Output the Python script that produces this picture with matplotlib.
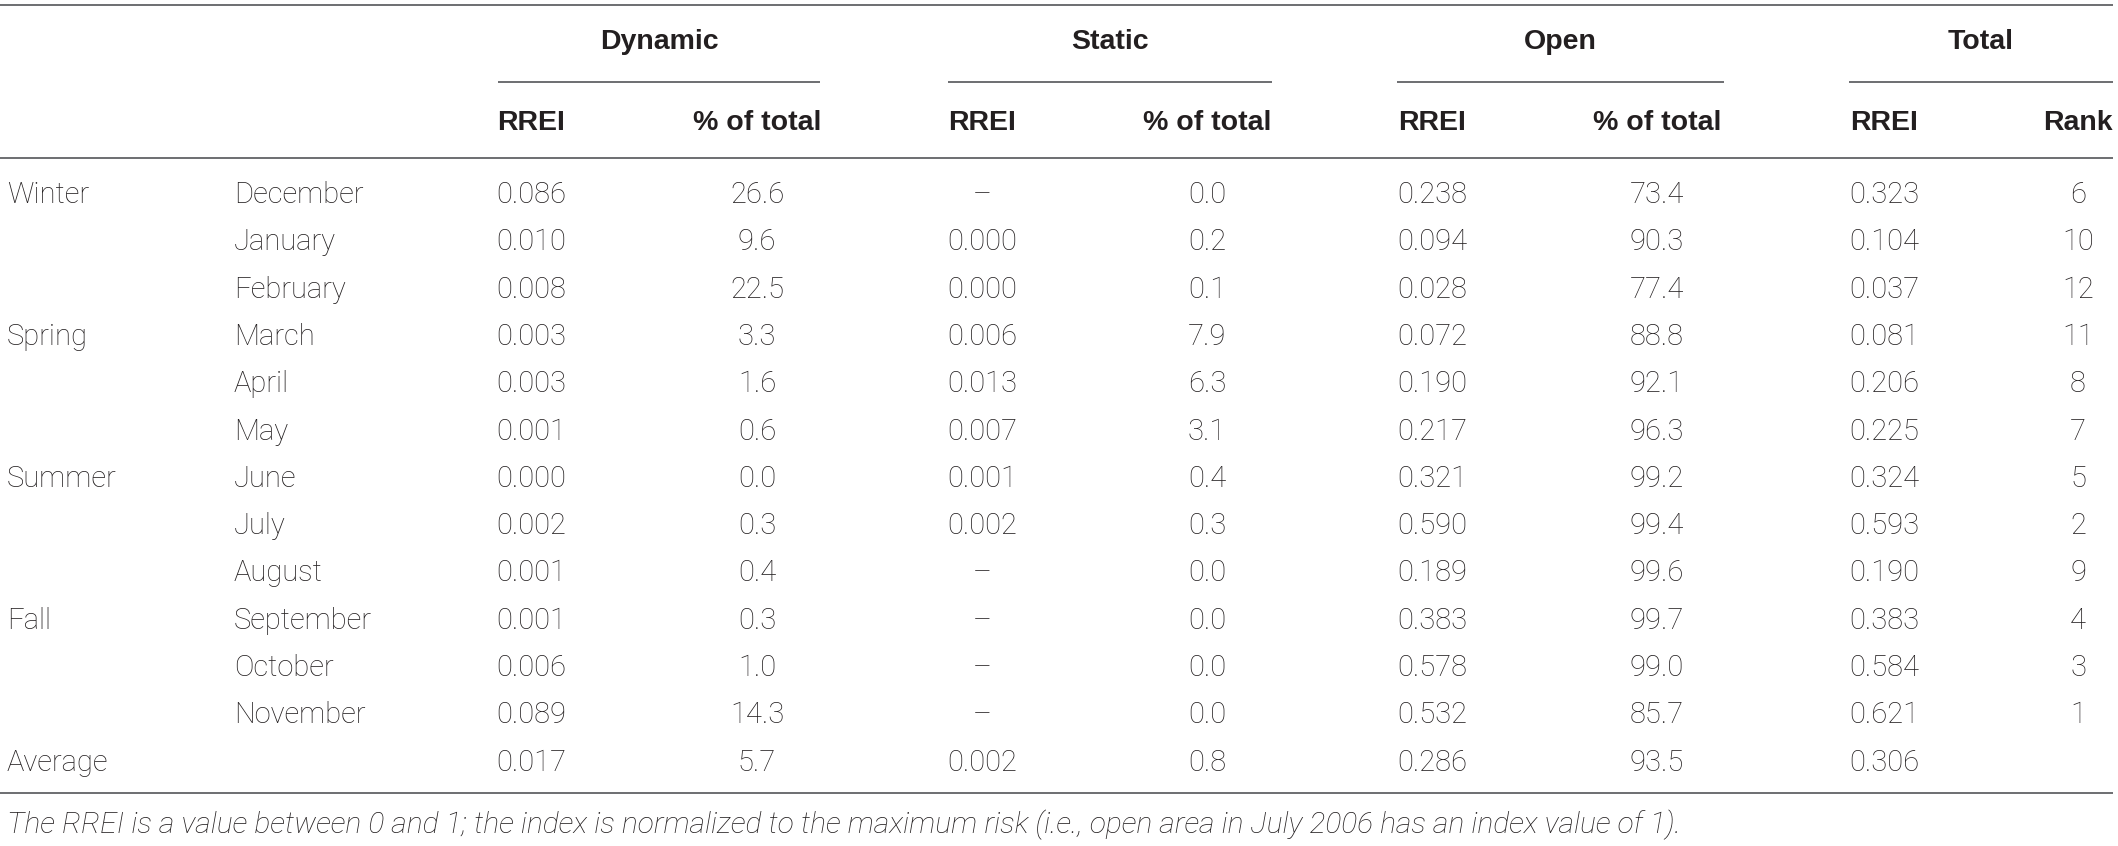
import matplotlib
matplotlib.use('Agg')
import matplotlib.pyplot as plt

# ── Data ──────────────────────────────────────────────────────────────────────
SEASONS = ['Winter', '', '', 'Spring', '', '', 'Summer', '', '', 'Fall', '', '', 'Average']
MONTHS = ['December', 'January', 'February', 'March', 'April', 'May',
          'June', 'July', 'August', 'September', 'October', 'November', '']

DYN_RREI = ['0.086', '0.010', '0.008', '0.003', '0.003', '0.001',
            '0.000', '0.002', '0.001', '0.001', '0.006', '0.089', '0.017']
DYN_PCT = ['26.6', '9.6', '22.5', '3.3', '1.6', '0.6',
           '0.0', '0.3', '0.4', '0.3', '1.0', '14.3', '5.7']
STA_RREI = ['–', '0.000', '0.000', '0.006', '0.013', '0.007',
            '0.001', '0.002', '–', '–', '–', '–', '0.002']
STA_PCT = ['0.0', '0.2', '0.1', '7.9', '6.3', '3.1',
           '0.4', '0.3', '0.0', '0.0', '0.0', '0.0', '0.8']
OPEN_RREI = ['0.238', '0.094', '0.028', '0.072', '0.190', '0.217',
             '0.321', '0.590', '0.189', '0.383', '0.578', '0.532', '0.286']
OPEN_PCT = ['73.4', '90.3', '77.4', '88.8', '92.1', '96.3',
            '99.2', '99.4', '99.6', '99.7', '99.0', '85.7', '93.5']
TOT_RREI = ['0.323', '0.104', '0.037', '0.081', '0.206', '0.225',
            '0.324', '0.593', '0.190', '0.383', '0.584', '0.621', '0.306']
TOT_RANK = ['6', '10', '12', '11', '8', '7', '5', '2', '9', '4', '3', '1', '']

GROUPS = ['Dynamic', 'Static', 'Open', 'Total']
SUBHEADS = ['RREI', '% of total', 'RREI', '% of total',
            'RREI', '% of total', 'RREI', 'Rank']
FOOTNOTE = ('The RREI is a value between 0 and 1; the index is normalized to the '
            'maximum risk (i.e., open area in July 2006 has an index value of 1).')

# ── Layout (pixels) ───────────────────────────────────────────────────────────
W, H = 2118, 846
X_SEASON, X_MONTH = 7, 234
COL_X = [531, 757, 982, 1207, 1432, 1657, 1884, 2078]
SPANS = [(498, 820), (948, 1272), (1397, 1724), (1849, 2113)]
Y_TOP, Y_GROUP, Y_SUB, Y_HEAD, Y_HLINE = 5, 42, 82, 123, 158
Y_ROW0, ROW_H = 195, 47.3
Y_BOTTOM, Y_NOTE = 793, 825

TXT = '#231f20'
LINE = '#6d6e71'
BODY_FONT = ['Roboto', 'DejaVu Sans']
HEAD_FONT = ['Liberation Sans', 'DejaVu Sans']
BODY_SIZE = 21
HEAD_SIZE = 20.5
NOTE_SIZE = 21.6

fig = plt.figure(figsize=(W / 100, H / 100), dpi=100)
ax = fig.add_axes([0, 0, 1, 1])
ax.set_xlim(0, W)
ax.set_ylim(H, 0)
ax.axis('off')


def hline(y, x0, x1):
    ax.plot([x0, x1], [y, y], color=LINE, lw=1.4, solid_capstyle='butt')


def body(x, y, s, ha='center'):
    ax.text(x, y, s, ha=ha, va='center', fontsize=BODY_SIZE, color=TXT,
            family=BODY_FONT, fontweight='light')


def head(x, y, s):
    ax.text(x, y, s, ha='center', va='center', fontsize=HEAD_SIZE, color=TXT,
            family=HEAD_FONT, fontweight='bold')


# rules
hline(Y_TOP, 0, 2113)
hline(Y_HLINE, 0, 2113)
hline(Y_BOTTOM, 0, 2113)
for (x0, x1), name in zip(SPANS, GROUPS):
    hline(Y_SUB, x0, x1)
    head((x0 + x1) / 2, Y_GROUP, name)

for x, s in zip(COL_X, SUBHEADS):
    head(x, Y_HEAD, s)

columns = [DYN_RREI, DYN_PCT, STA_RREI, STA_PCT, OPEN_RREI, OPEN_PCT, TOT_RREI, TOT_RANK]
for i in range(len(MONTHS)):
    y = Y_ROW0 + i * ROW_H
    body(X_SEASON, y, SEASONS[i], ha='left')
    body(X_MONTH, y, MONTHS[i], ha='left')
    for x, col in zip(COL_X, columns):
        body(x, y, col[i])

ax.text(X_SEASON, Y_NOTE, FOOTNOTE, ha='left', va='center', fontsize=NOTE_SIZE,
        color=TXT, family=BODY_FONT, fontweight='light', style='italic')

fig.savefig('out.png', dpi=100)
